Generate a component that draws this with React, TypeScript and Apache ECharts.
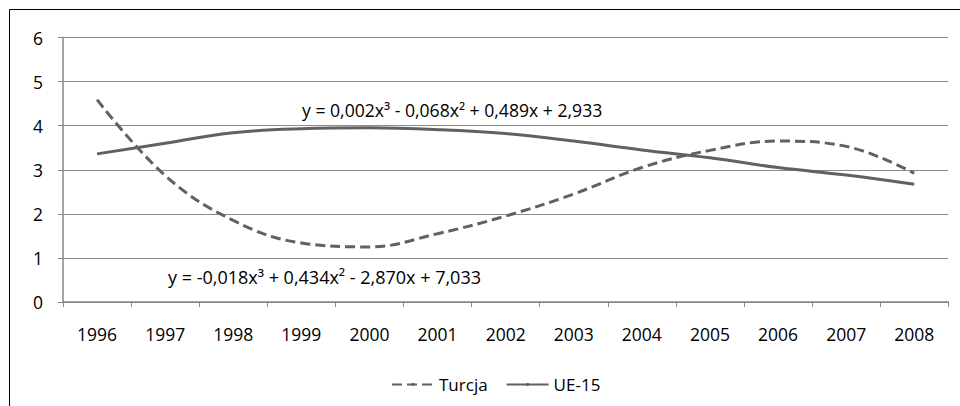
import React, { useEffect, useRef } from "react";
import * as echarts from "echarts";

const years = ["1996", "1997", "1998", "1999", "2000", "2001", "2002", "2003", "2004", "2005", "2006", "2007", "2008"];
const turcja = [4.59, 2.87, 1.85, 1.34, 1.25, 1.55, 1.95, 2.45, 3.05, 3.44, 3.65, 3.53, 2.92];
const ue15 = [3.36, 3.6, 3.84, 3.93, 3.95, 3.91, 3.82, 3.65, 3.45, 3.27, 3.05, 2.88, 2.67];
const seriesNames = ["Turcja", "UE-15"];
const eqTurcja = "y = -0,018x³ + 0,434x² - 2,870x + 7,033";
const eqUE = "y = 0,002x³ - 0,068x² + 0,489x + 2,933";

const FONT = "'Open Sans', 'Noto Sans', sans-serif";
const LINE = "#616161";

export default function App() {
  const ref = useRef<HTMLDivElement>(null);
  useEffect(() => {
    if (!ref.current) return;
    const chart = echarts.init(ref.current, undefined, { renderer: "svg" });
    chart.setOption({
      animation: false,
      backgroundColor: "#ffffff",
      textStyle: { fontFamily: FONT },
      grid: { left: 63, top: 37.5, right: 11.7, bottom: 104, containLabel: false },
      legend: {
        data: seriesNames,
        top: 371,
        left: 386,
        itemWidth: 42,
        itemHeight: 4,
        itemGap: 18,
        itemStyle: { borderWidth: 0 },
        textStyle: { fontFamily: FONT, fontSize: 17, color: "#000" },
      },
      xAxis: {
        type: "category",
        data: years,
        boundaryGap: true,
        axisLine: { lineStyle: { color: "#868686", width: 1.5 } },
        axisTick: { show: true, length: 5, inside: false, lineStyle: { color: "#868686" } },
        axisLabel: { color: "#000", fontSize: 17.5, margin: 23, fontFamily: FONT },
        splitLine: { show: false },
      },
      yAxis: {
        type: "value",
        min: 0,
        max: 6,
        interval: 1,
        axisLine: { show: true, lineStyle: { color: "#868686", width: 1.5 } },
        axisTick: { show: true, length: 5, lineStyle: { color: "#868686" } },
        axisLabel: { color: "#000", fontSize: 17.5, margin: 20, fontFamily: FONT },
        splitLine: { show: true, lineStyle: { color: "#8c8c8c", width: 1 } },
      },
      graphic: [
        {
          type: "rect",
          shape: { x: 9.5, y: 9.5, width: 1000, height: 1000 },
          style: { fill: "none", stroke: "#000", lineWidth: 1 },
          silent: true,
        },
        {
          type: "text",
          left: 168,
          top: 268,
          style: { text: eqTurcja, fontSize: 18, fontFamily: FONT, fill: "#000" },
        },
        {
          type: "text",
          left: 302,
          top: 101,
          style: { text: eqUE, fontSize: 17.6, fontFamily: FONT, fill: "#000" },
        },
      ],
      series: [
        {
          name: seriesNames[0],
          type: "line",
          data: turcja,
          smooth: 0.4,
          symbol: "none",
          lineStyle: { color: LINE, width: 3, type: [10, 5] },
          itemStyle: { color: LINE },
        },
        {
          name: seriesNames[1],
          type: "line",
          data: ue15,
          smooth: 0.4,
          symbol: "none",
          lineStyle: { color: LINE, width: 3 },
          itemStyle: { color: LINE },
        },
      ],
    });
    return () => chart.dispose();
  }, []);
  return <div ref={ref} style={{ position: "fixed", left: 0, top: 0, width: 960, height: 406 }} />;
}
